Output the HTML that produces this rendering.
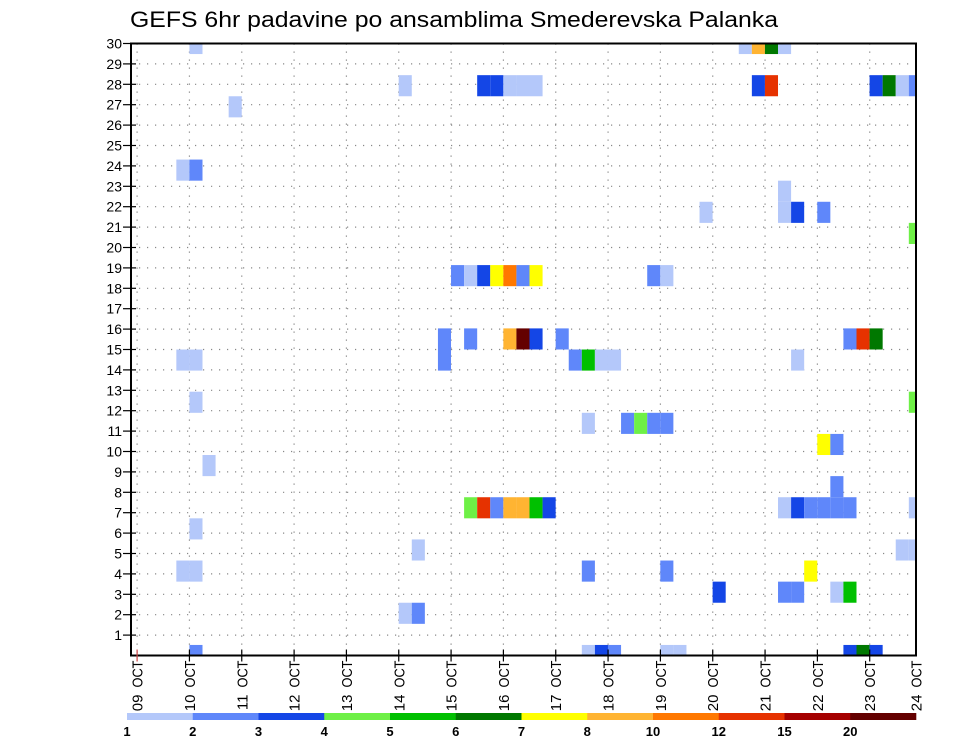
<!DOCTYPE html>
<html><head><meta charset="utf-8"><style>
html,body{margin:0;padding:0;background:#fff;}
svg{display:block;font-family:"Liberation Sans",sans-serif;}
</style></head><body>
<svg id="chart" width="960" height="742" viewBox="0 0 960 742" xmlns="http://www.w3.org/2000/svg">
<text x="130" y="27" font-size="22" textLength="648" lengthAdjust="spacingAndGlyphs">GEFS 6hr padavine po ansamblima Smederevska Palanka</text>
<g id="grid"></g>
<g id="cells"></g>
<g id="axes"></g>
<g id="legend"></g>
</svg>
<script>
// ---- data ----
const dayLabels = ["09","10","11","12","13","14","15","16","17","18","19","20","21","22","23","24"];
const yTicks = [1,2,3,4,5,6,7,8,9,10,11,12,13,14,15,16,17,18,19,20,21,22,23,24,25,26,27,28,29,30];
const levelLabels = ["1","2","3","4","5","6","7","8","10","12","15","20"];
const levelColors = ["#b4c8fa","#5f87fa","#1446e6","#6ef046","#00c000","#007800","#ffff00","#ffb432","#ff7800","#e63200","#a50000","#640000"];
// each cell: ensemble member, 6-hour step since 09 OCT 00Z, precipitation class index
const cellMember = [
 30,30,30,30,30,
 28,28,28,28,28,28,28,28,28,28,28,28,
 27,
 24,24,
 23,
 22,22,22,22,
 21,
 19,19,19,19,19,19,19,19,19,
 16,16,16,16,16,16,16,16,16,
 15,15,15,15,15,15,15,15,
 13,13,
 12,12,12,12,12,
 11,11,
 10,
 9,
 8,8,8,8,8,8,8,8,8,8,8,8,8,8,
 7,
 6,6,6,
 5,5,5,5,5,
 4,4,4,4,4,
 3,3,
 1,1,1,1,1,1,1,1,1];
const cellStep = [
 4,46,47,48,49,
 20,26,27,28,29,30,47,48,56,57,58,59,
 7,
 3,4,
 49,
 43,49,50,52,
 59,
 24,25,26,27,28,29,30,39,40,
 23,25,28,29,30,32,54,55,56,
 23,3,4,33,34,35,36,50,
 4,59,
 34,37,38,39,40,
 52,53,
 5,
 53,
 25,26,27,28,29,30,31,49,50,51,52,53,54,59,
 4,
 21,58,59,
 3,4,34,40,51,
 44,49,50,53,54,
 20,21,
 4,34,35,36,40,41,54,55,56];
const cellLevel = [
 0,0,7,5,0,
 0,2,2,0,0,0,2,9,2,5,0,1,
 0,
 0,1,
 0,
 0,0,2,1,
 3,
 1,0,2,6,8,1,6,1,0,
 1,1,7,11,2,1,1,9,5,
 1,0,0,1,4,0,0,0,
 0,3,
 0,1,3,1,1,
 6,1,
 0,
 1,
 3,9,1,7,7,4,2,0,2,1,1,1,1,0,
 0,
 0,0,0,
 0,0,1,1,6,
 2,1,1,0,4,
 0,1,
 1,0,2,1,0,0,2,5,2];
</script>
<script>
const NS="http://www.w3.org/2000/svg";
const L=131,R=916,T=43.5,B=655.5;
const x0=137.1, stepW=13.08, dayW=52.33;
const xStep=k=>x0+k*stepW;
const xDay=d=>x0+d*dayW;
const yTick=v=>B-v*(B-T)/30;
const memberH=(B-T)/29;
const yMember=m=>T+(30-m)*memberH;
function mk(tag,attrs,parent){const e=document.createElementNS(NS,tag);for(const k in attrs)e.setAttribute(k,attrs[k]);parent.appendChild(e);return e;}
const grid=document.getElementById('grid');
const cells=document.getElementById('cells');
const axes=document.getElementById('axes');
const legend=document.getElementById('legend');
yTicks.forEach(v=>{const l=mk('line',{x1:L,x2:R,y1:yTick(v),y2:yTick(v),stroke:'#888','stroke-width':1.2,'stroke-dasharray':'1.2 6.8'},grid);

});
for(let d=0;d<15;d++){const l=mk('line',{x1:xDay(d),x2:xDay(d),y1:T,y2:B,stroke:'#888','stroke-width':1.2,'stroke-dasharray':'1.2 6.8'},grid);

}
for(let i=0;i<cellMember.length;i++){
  const m=cellMember[i];
  const k=cellStep[i];
  const x=Math.max(L,xStep(k)), x2=Math.min(R,xStep(k+1));
  const y=Math.max(T,yMember(m)-memberH/2), y2=Math.min(B,yMember(m)+memberH/2);
  const r=mk('rect',{x:x,y:y,width:x2-x,height:y2-y,fill:levelColors[cellLevel[i]]},cells);
  
  
}
const fr=mk('rect',{x:L,y:T,width:R-L,height:B-T,fill:'none',stroke:'#000','stroke-width':2},axes);


yTicks.forEach(v=>{
  const y=yTick(v);
  const t=mk('line',{x1:L-8,x2:L+5,y1:y,y2:y,stroke:'#000','stroke-width':1.2},axes);
  
  
  const tx=mk('text',{x:L-9,y:y+5,'font-size':14,'text-anchor':'end',fill:'#000'},axes);
  tx.textContent=v;
  
  
});
dayLabels.forEach((lab,d)=>{
  const x=d<15?xDay(d):R;
  if(d<15){const t=mk('line',{x1:x,x2:x,y1:B-6,y2:B+6,stroke:d==0?'#c44':'#000','stroke-width':1.2},axes);
  
  }
  const tm=mk('text',{x:0,y:0,'font-size':15,'text-anchor':'end',fill:'#000',textLength:27,lengthAdjust:'spacingAndGlyphs',transform:`translate(${x+5.5},${B+5}) rotate(-90)`},axes);
  tm.textContent='OCT';
  
  
  const tx=mk('text',{x:0,y:0,'font-size':15,'text-anchor':'end',fill:'#000',transform:`translate(${x+5.5},${B+39}) rotate(-90)`},axes);
  tx.textContent=lab;
  
  
});
const cbL=127, cbW=(R-cbL)/levelColors.length;
levelColors.forEach((c,i)=>{
  const r=mk('rect',{x:cbL+i*cbW,y:713,width:cbW+0.3,height:7,fill:c},legend);
  
  
});
levelLabels.forEach((lab,i)=>{
  const t=mk('text',{x:cbL+i*cbW,y:736,'font-size':13,'font-weight':'bold','text-anchor':'middle',fill:'#000'},legend);
  t.textContent=lab;
  
  
});
</script>
</body></html>
